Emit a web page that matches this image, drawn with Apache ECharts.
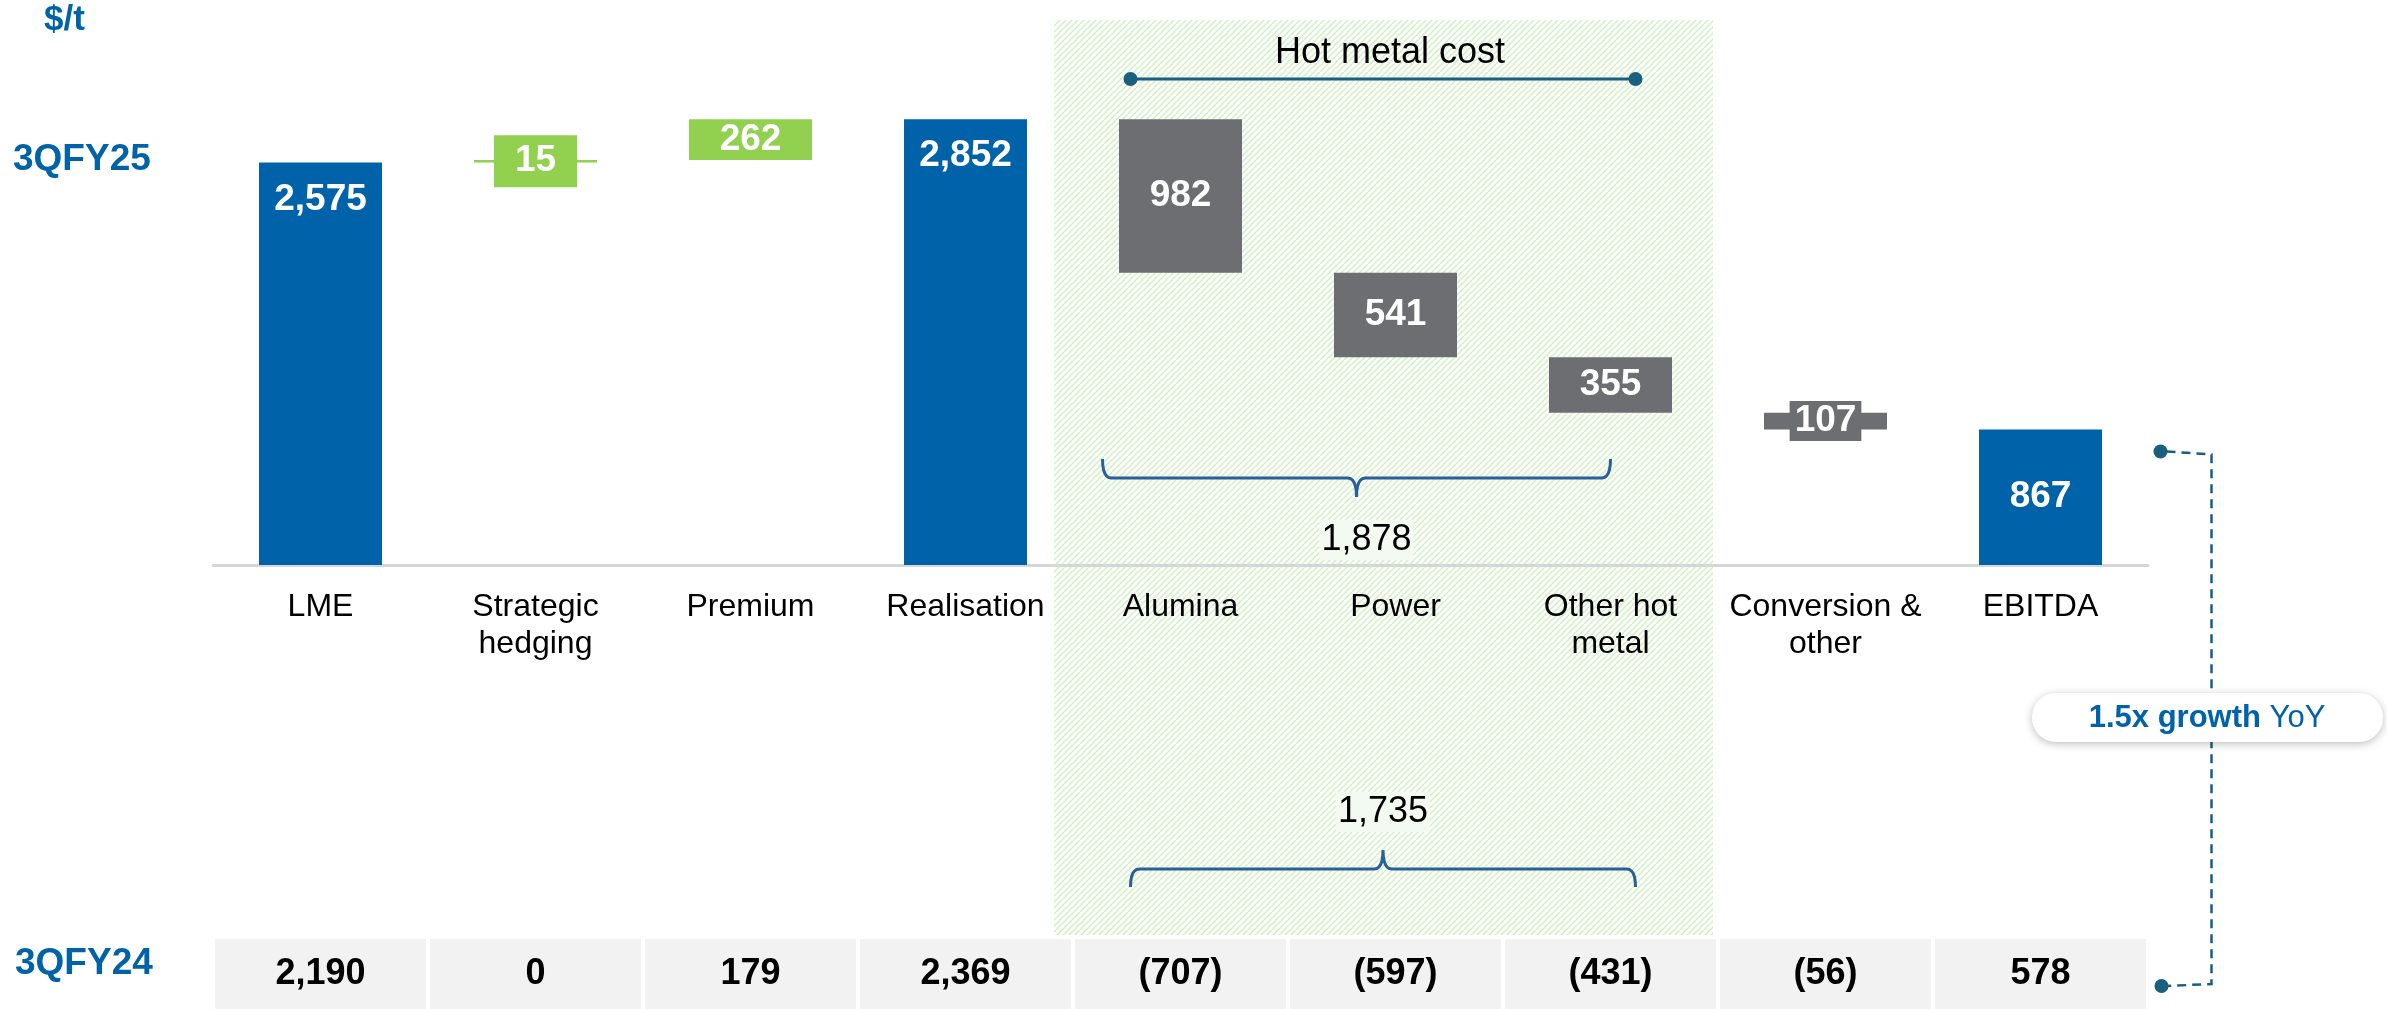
<!DOCTYPE html>
<html>
<head>
<meta charset="utf-8">
<script src="https://cdn.jsdelivr.net/npm/echarts@6/dist/echarts.min.js"></script>
<style>
  html, body { margin: 0; padding: 0; background: #fff; }
  #chart { width: 2387px; height: 1009px; }
</style>
</head>
<body>
<div id="chart"></div>
<script>
// data ($/t)
const categories = ['LME', 'Strategic\nhedging', 'Premium', 'Realisation', 'Alumina', 'Power', 'Other hot\nmetal', 'Conversion &\nother', 'EBITDA'];
const currentValues = [2575, 15, 262, 2852, -982, -541, -355, -107, 867];
const isTotal = [true, false, false, true, false, false, false, false, true];
const priorValues = [2190, 0, 179, 2369, -707, -597, -431, -56, 578];
const hotMetalIdx = [4, 5, 6];

const BLUE = '#0062a8';
const GREEN = '#92d050';
const GREY = '#6d6e71';
const TEAL = '#1a5f80';
const FONT = 'Liberation Sans, Arial, sans-serif';

const fmt = v => Math.abs(v).toLocaleString('en-US');
const fmtPrior = v => v < 0 ? '(' + fmt(v) + ')' : fmt(v);

// waterfall: invisible base + visible step
let level = 0;
const base = [], step = [];
currentValues.forEach((v, i) => {
  if (isTotal[i]) { base.push(0); step.push(v); level = v; }
  else if (v >= 0) { base.push(level); step.push(v); level += v; }
  else { level += v; base.push(level); step.push(-v); }
});

const stepData = step.map((h, i) => {
  const v = currentValues[i];
  const color = isTotal[i] ? BLUE : (v >= 0 ? GREEN : GREY);
  const label = { position: 'inside' };
  if (i === 0 || i === 3) { label.position = 'insideTop'; label.distance = 19; }
  if (i === 1) { label.backgroundColor = GREEN; label.padding = [8, 21]; }
  if (i === 7) { label.backgroundColor = GREY; label.padding = [2, 5]; }
  return { value: h, itemStyle: { color: color }, label: label };
});

const hotNow = hotMetalIdx.reduce((s, i) => s - currentValues[i], 0);
const hotPrior = hotMetalIdx.reduce((s, i) => s - priorValues[i], 0);

const chart = echarts.init(document.getElementById('chart'));

chart.setOption({
  animation: false,
  textStyle: { fontFamily: FONT },
  grid: { left: 213, right: 239, top: 96, bottom: 443, containLabel: false },
  xAxis: [{
    type: 'category',
    data: categories,
    axisLine: { lineStyle: { color: '#d6d6d6', width: 3 } },
    axisTick: { length: 10, lineStyle: { color: '#d6d6d6', width: 2 } },
    axisLabel: { interval: 0, fontSize: 32, lineHeight: 37, color: '#000', margin: 24, fontFamily: FONT }
  }, {
    type: 'category',
    data: priorValues.map(fmtPrior),
    position: 'bottom',
    offset: 0,
    axisLine: { show: false },
    axisTick: { show: false },
    axisLabel: {
      interval: 0, margin: 374, fontSize: 36, fontWeight: 'bold', color: '#000',
      backgroundColor: '#f2f2f2', width: 211, height: 70, lineHeight: 70,
      align: 'center', verticalAlign: 'top', fontFamily: FONT
    }
  }],
  yAxis: { type: 'value', min: 0, max: 3000, show: false, splitLine: { show: false } },
  series: [{
    name: 'base', type: 'bar', stack: 'w', barWidth: 123, silent: true,
    itemStyle: { color: 'transparent' }, data: base
  }, {
    name: 'step', type: 'bar', stack: 'w', barWidth: 123,
    label: {
      show: true, color: '#fff', fontSize: 37, fontWeight: 'bold', lineHeight: 36, fontFamily: FONT,
      formatter: p => fmt(currentValues[p.dataIndex])
    },
    data: stepData
  }]
});

// hatch pattern for the hot metal block
const tile = document.createElement('canvas');
tile.width = 6; tile.height = 6;
const tc = tile.getContext('2d');
tc.fillStyle = '#fcfefb'; tc.fillRect(0, 0, 6, 6);
tc.strokeStyle = '#d3eec6'; tc.lineWidth = 1.5;
[-6, 0, 6].forEach(ox => {
  tc.beginPath(); tc.moveTo(ox, 6); tc.lineTo(ox + 6, 0); tc.stroke();
});

const px = i => chart.convertToPixel({ xAxisIndex: 0 }, i);
const py = v => chart.convertToPixel({ yAxisIndex: 0 }, v);
const band = px(1) - px(0);

const hatchL = px(4) - band / 2 - 19;
const hatchR = px(6) + band / 2 - 5;

// curly brace as a polyline with rounded corners
function quad(p0, c, p1, out) {
  for (let k = 1; k <= 6; k++) {
    const t = k / 6, u = 1 - t;
    out.push([u * u * p0[0] + 2 * u * t * c[0] + t * t * p1[0], u * u * p0[1] + 2 * u * t * c[1] + t * t * p1[1]]);
  }
}
function brace(x1, x2, yEnd, yMid, yTip) {
  const m = (x1 + x2) / 2, r = 9;
  const pts = [[x1, yEnd]];
  quad([x1, yEnd], [x1, yMid], [x1 + r, yMid], pts);
  pts.push([m - r, yMid]);
  quad([m - r, yMid], [m, yMid], [m, yTip], pts);
  quad([m, yTip], [m, yMid], [m + r, yMid], pts);
  pts.push([x2 - r, yMid]);
  quad([x2 - r, yMid], [x2, yMid], [x2, yEnd], pts);
  return pts;
}

const upX1 = px(4) - 78, upX2 = px(6);
const loX1 = px(4) - 50, loX2 = px(6) + 25;
const ebX = px(8) + 120, bendX = px(8) + 171;
const topDotY = py(currentValues[8]) + 22;

chart.setOption({
  graphic: [
    { type: 'rect', z: -10, silent: true,
      shape: { x: hatchL, y: 20, width: hatchR - hatchL, height: 915 },
      style: { fill: { image: tile, repeat: 'repeat' } } },

    { type: 'text', style: { x: 44, y: 20, text: '$/t', font: 'bold 35px ' + FONT, fill: BLUE, verticalAlign: 'middle' } },
    { type: 'text', style: { x: 13, y: 160, text: '3QFY25', font: 'bold 37px ' + FONT, fill: BLUE, verticalAlign: 'middle' } },
    { type: 'text', style: { x: 15, y: 964, text: '3QFY24', font: 'bold 37px ' + FONT, fill: BLUE, verticalAlign: 'middle' } },

    // hot metal cost header
    { type: 'text', style: { x: (loX1 + loX2) / 2 + 7, y: 53, text: 'Hot metal cost', font: '36px ' + FONT, fill: '#000', align: 'center', verticalAlign: 'middle' } },
    { type: 'line', shape: { x1: loX1, y1: 79, x2: loX2, y2: 79 }, style: { stroke: TEAL, lineWidth: 3 } },
    { type: 'circle', shape: { cx: loX1, cy: 79, r: 7 }, style: { fill: TEAL } },
    { type: 'circle', shape: { cx: loX2, cy: 79, r: 7 }, style: { fill: TEAL } },

    // braces with hot metal totals
    { type: 'polyline', shape: { points: brace(upX1, upX2, 459, 478, 497) }, style: { stroke: '#2b5f98', lineWidth: 3, fill: null } },
    { type: 'text', style: { x: (upX1 + upX2) / 2 + 10, y: 540, text: fmt(hotNow), font: '36px ' + FONT, fill: '#000', align: 'center', verticalAlign: 'middle', backgroundColor: '#f3faef', padding: [2, 2] } },
    { type: 'polyline', shape: { points: brace(loX1, loX2, 887, 869, 850) }, style: { stroke: '#2b5f98', lineWidth: 3, fill: null } },
    { type: 'text', style: { x: (loX1 + loX2) / 2, y: 812, text: fmt(hotPrior), font: '36px ' + FONT, fill: '#000', align: 'center', verticalAlign: 'middle', backgroundColor: '#f3faef', padding: [2, 2] } },

    // YoY connector
    { type: 'polyline', shape: { points: [[ebX + 6, topDotY], [bendX, topDotY + 3], [bendX, 984], [ebX + 6, 986]] },
      style: { stroke: TEAL, lineWidth: 2.5, lineDash: [9, 6], fill: null } },
    { type: 'circle', shape: { cx: ebX, cy: topDotY, r: 7 }, style: { fill: TEAL } },
    { type: 'circle', shape: { cx: ebX + 1, cy: 986, r: 7 }, style: { fill: TEAL } },
    { type: 'rect', z: 20, shape: { x: 2032, y: 693, width: 351, height: 49, r: 24 },
      style: { fill: '#fff', shadowBlur: 8, shadowColor: 'rgba(0,0,0,0.25)', shadowOffsetY: 2 } },
    { type: 'text', z: 21, style: {
        x: 2207, y: 718, align: 'center', verticalAlign: 'middle',
        text: '{b|1.5x growth }{n|YoY}',
        rich: {
          b: { font: 'bold 31px ' + FONT, fill: BLUE },
          n: { font: '31px ' + FONT, fill: BLUE }
        } } }
  ]
});
</script>
</body>
</html>
